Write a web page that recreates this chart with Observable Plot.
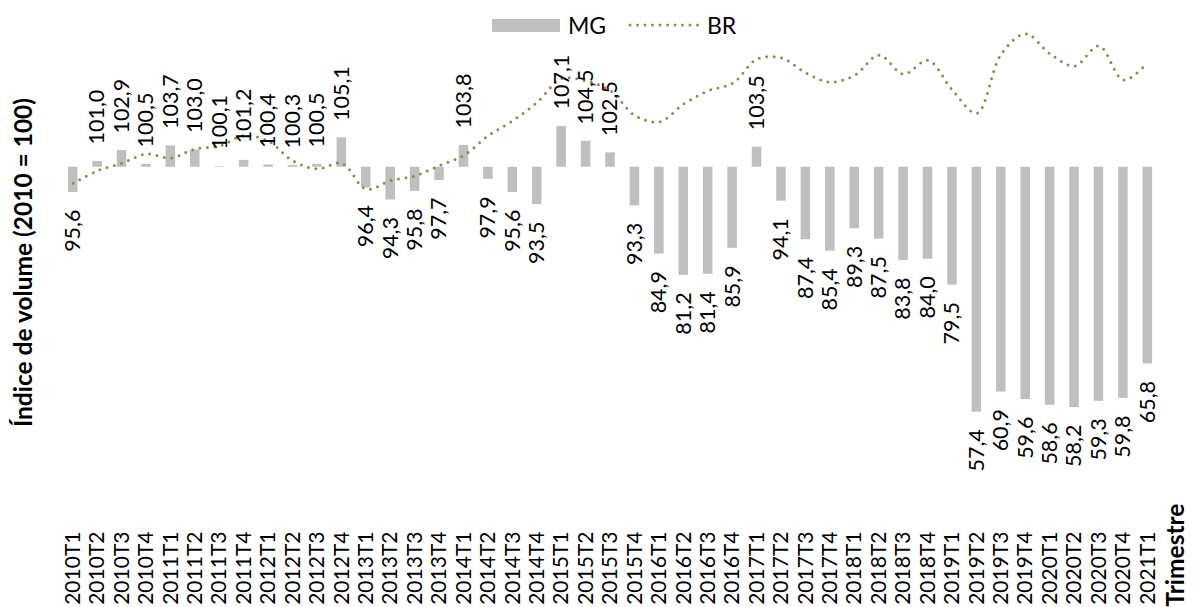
<!DOCTYPE html>
<html>
<head>
<meta charset="utf-8">
<script src="https://cdn.jsdelivr.net/npm/d3@7"></script>
<script src="https://cdn.jsdelivr.net/npm/@observablehq/plot@0.6"></script>
<style>
  html, body { margin: 0; padding: 0; background: #fff; }
  #wrap { position: relative; width: 1197px; height: 607px; font-family: Lato, "Open Sans", sans-serif; }
  .legend > * { position: absolute; }
  .legend .swatch { left: 492px; top: 19px; width: 68px; height: 13px; background: #bfbfbf; }
  .legend .lbl { font-size: 23px; line-height: 23px; top: 14px; color: #000; }
  .legend svg { left: 626px; top: 19px; }
</style>
</head>
<body>
<div id="wrap">
  <div class="legend">
    <div class="swatch"></div>
    <span class="lbl" style="left:568px">MG</span>
    <svg width="76" height="12"><line x1="4" x2="72" y1="6" y2="6" stroke="#948a54" stroke-width="3" stroke-dasharray="0 7.5" stroke-linecap="round"/></svg>
    <span class="lbl" style="left:707px">BR</span>
  </div>
</div>
<script>
// Quarterly volume index (2010 = 100)
const quarters = [
  "2010T1","2010T2","2010T3","2010T4",
  "2011T1","2011T2","2011T3","2011T4",
  "2012T1","2012T2","2012T3","2012T4",
  "2013T1","2013T2","2013T3","2013T4",
  "2014T1","2014T2","2014T3","2014T4",
  "2015T1","2015T2","2015T3","2015T4",
  "2016T1","2016T2","2016T3","2016T4",
  "2017T1","2017T2","2017T3","2017T4",
  "2018T1","2018T2","2018T3","2018T4",
  "2019T1","2019T2","2019T3","2019T4",
  "2020T1","2020T2","2020T3","2020T4",
  "2021T1"
];

// Minas Gerais (bars, measured from the 100 baseline)
const mg = [
  95.6, 101.0, 102.9, 100.5,
  103.7, 103.0, 100.1, 101.2,
  100.4, 100.3, 100.5, 105.1,
  96.4, 94.3, 95.8, 97.7,
  103.8, 97.9, 95.6, 93.5,
  107.1, 104.5, 102.5, 93.3,
  84.9, 81.2, 81.4, 85.9,
  103.5, 94.1, 87.4, 85.4,
  89.3, 87.5, 83.8, 84.0,
  79.5, 57.4, 60.9, 59.6,
  58.6, 58.2, 59.3, 59.8,
  65.8
];

// Brasil (dotted line)
const br = [
  97.2, 99.4, 100.7, 102.3,
  101.6, 103.2, 103.7, 105.5,
  104.5, 101.1, 99.7, 100.7,
  96.2, 97.7, 98.5, 100.3,
  102.1, 105.5, 108.1, 111.3,
  115.4, 115.0, 113.3, 109.0,
  107.9, 111.0, 113.3, 114.6,
  118.8, 119.0, 116.4, 114.8,
  116.0, 119.5, 116.2, 118.6,
  113.4, 109.4, 119.7, 123.2,
  119.7, 117.6, 121.1, 115.2,
  118.2
];

const base = 100;
const data = quarters.map((q, i) => ({q, mg: mg[i], br: br[i]}));
const up = data.filter(d => d.mg >= base);
const down = data.filter(d => d.mg < base);
const fmt = v => d3.format(".1f")(v).replace(".", ",");

const chart = Plot.plot({
  width: 1197,
  height: 607,
  marginTop: 23,
  marginBottom: 78,
  marginLeft: 53,
  marginRight: 30,
  style: {fontFamily: "Lato, 'Open Sans', sans-serif", fontSize: "21px", color: "#000", background: "transparent"},
  x: {domain: quarters, padding: 0.61, round: false, tickRotate: -90, tickSize: 0, tickPadding: 2, label: null},
  y: {domain: [37, 125], axis: null},
  marks: [
    Plot.barY(data, {x: "q", y1: base, y2: "mg", fill: "#bfbfbf"}),
    Plot.line(data, {x: "q", y: "br", curve: "catmull-rom", stroke: "#948a54", strokeWidth: 3, strokeDasharray: "0 7.5", strokeLinecap: "round"}),
    Plot.text(up, {x: "q", y: "mg", text: d => fmt(d.mg), rotate: -90, textAnchor: "start", dy: -17, fontSize: 21.5, fill: "#000"}),
    Plot.text(down, {x: "q", y: "mg", text: d => fmt(d.mg), rotate: -90, textAnchor: "end", dy: 17, fontSize: 21.5, fill: "#000"}),
    Plot.text(["Índice de volume (2010 = 100)"], {frameAnchor: "left", textAnchor: "middle", rotate: -90, dx: -29, dy: -14, fontWeight: "bold", fontSize: 24.5, fill: "#000"}),
    Plot.text(["Trimestre"], {frameAnchor: "bottom-right", rotate: -90, textAnchor: "start", dx: 16, dy: 77, fontWeight: "bold", fontSize: 24.5, fill: "#000"})
  ]
});
chart.style.position = "absolute";
chart.style.left = "0";
chart.style.top = "0";
chart.style.overflow = "visible";
document.getElementById("wrap").prepend(chart);
</script>
</body>
</html>
